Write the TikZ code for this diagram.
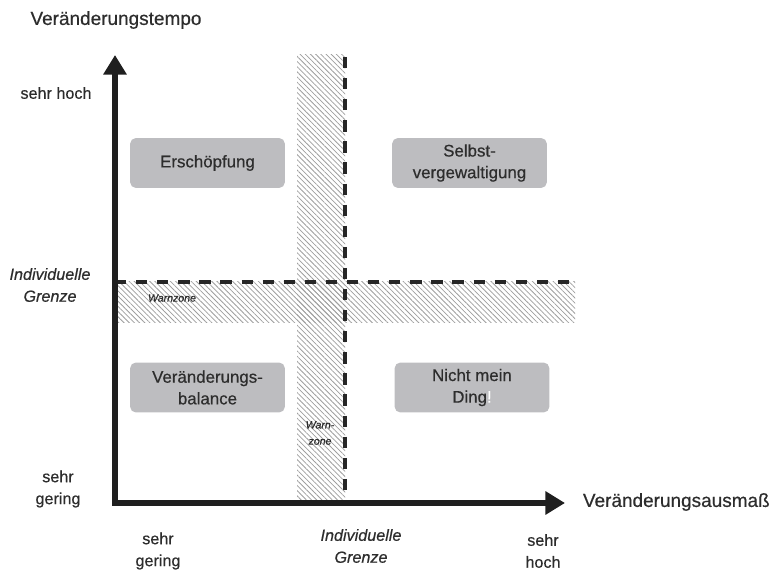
\documentclass[tikz,border=0pt]{standalone}
\usepackage{fontspec}
\setmainfont{Liberation Sans}[UprightFeatures={FakeBold=0.5},ItalicFeatures={FakeBold=0.5}]
\usetikzlibrary{arrows.meta,patterns.meta}
\definecolor{boxgray}{RGB}{189,189,192}
\definecolor{inkgray}{RGB}{45,45,45}

\begin{document}
\begin{tikzpicture}[x=0.025cm,y=-0.025cm,
  feld/.style={fill=boxgray,rounded corners=4pt,minimum width=110pt,
     minimum height=35.5pt,align=center,text=inkgray,inner sep=2pt,
     font=\fontsize{12}{15.4}\selectfont},
  achse/.style={line width=4pt,draw=black!88,
     {Triangle[length=14pt,width=16pt]}-{Triangle[length=14pt,width=16pt]}},
  grenze/.style={line width=2.4pt,draw=black!85,dash pattern=on 8pt off 7pt},
  warn/.style={pattern={Lines[angle=-45,distance=2.6pt,line width=0.55pt]},
     pattern color=black!38},
  skala/.style={align=center,text=inkgray,font=\fontsize{11.5}{15.6}\selectfont},
  titel/.style={text=inkgray,font=\fontsize{13.5}{16}\selectfont},
  klein/.style={align=center,text=inkgray,font=\fontsize{7.5}{11.5}\selectfont\itshape}]
\useasboundingbox (0,0) rectangle (779,571);
% Warnzonen
\fill[warn] (297,55) rectangle (345,503);
\fill[warn] (115,282) rectangle (575,323);
% individuelle Grenzen
\coordinate (gx1) at (345,57);
\coordinate (gx2) at (345,503);
\coordinate (gy1) at (115,282);
\coordinate (gy2) at (575,282);
\draw[grenze] (gx1) -- (gx2);
\draw[grenze] (gy1) -- (gy2);
% Achsen
\coordinate (o) at (115,503);
\coordinate (ytip) at (115,55);
\coordinate (xtip) at (565,503);
\draw[achse] (ytip) -- (o) -- (xtip);
\node[titel] (tempo) at (116,20) {Veränderungstempo};
\node[titel,anchor=west] (ausmass) at (578,502) {Veränderungsausmaß};
% Skala
\node[skala] (yhoch) at (56,93) {sehr hoch};
\node[skala,font=\fontsize{11.5}{15.6}\selectfont\itshape] (ygrenze) at (50,285) {Individuelle\\Grenze};
\node[skala] (ygering) at (58,489) {sehr\\gering};
\foreach \px/\name/\txt in {158/xgering/{sehr\\gering},543/xhoch/{sehr\\hoch}}
  \node[skala] (\name) at (\px,551) {\txt};
\node[skala,font=\fontsize{11.5}{15.6}\selectfont\itshape] (xgrenze) at (361,546) {Individuelle\\Grenze};
\node[klein] (warnh) at (172,298) {Warnzone};
\node[klein] (warnv) at (320,433) {Warn-\\zone};
% Felder
\node[feld] (erschoepfung) at (207.5,163) {Erschöpfung};
\node[feld] (selbst) at (469.5,163) {Selbst-\\vergewaltigung};
\node[feld] (balance) at (207.5,387.5) {Veränderungs-\\balance};
\node[feld] (nichtmein) at (472,387.5) {Nicht mein\\Ding\textcolor{white}{!}};
\end{tikzpicture}
\end{document}
